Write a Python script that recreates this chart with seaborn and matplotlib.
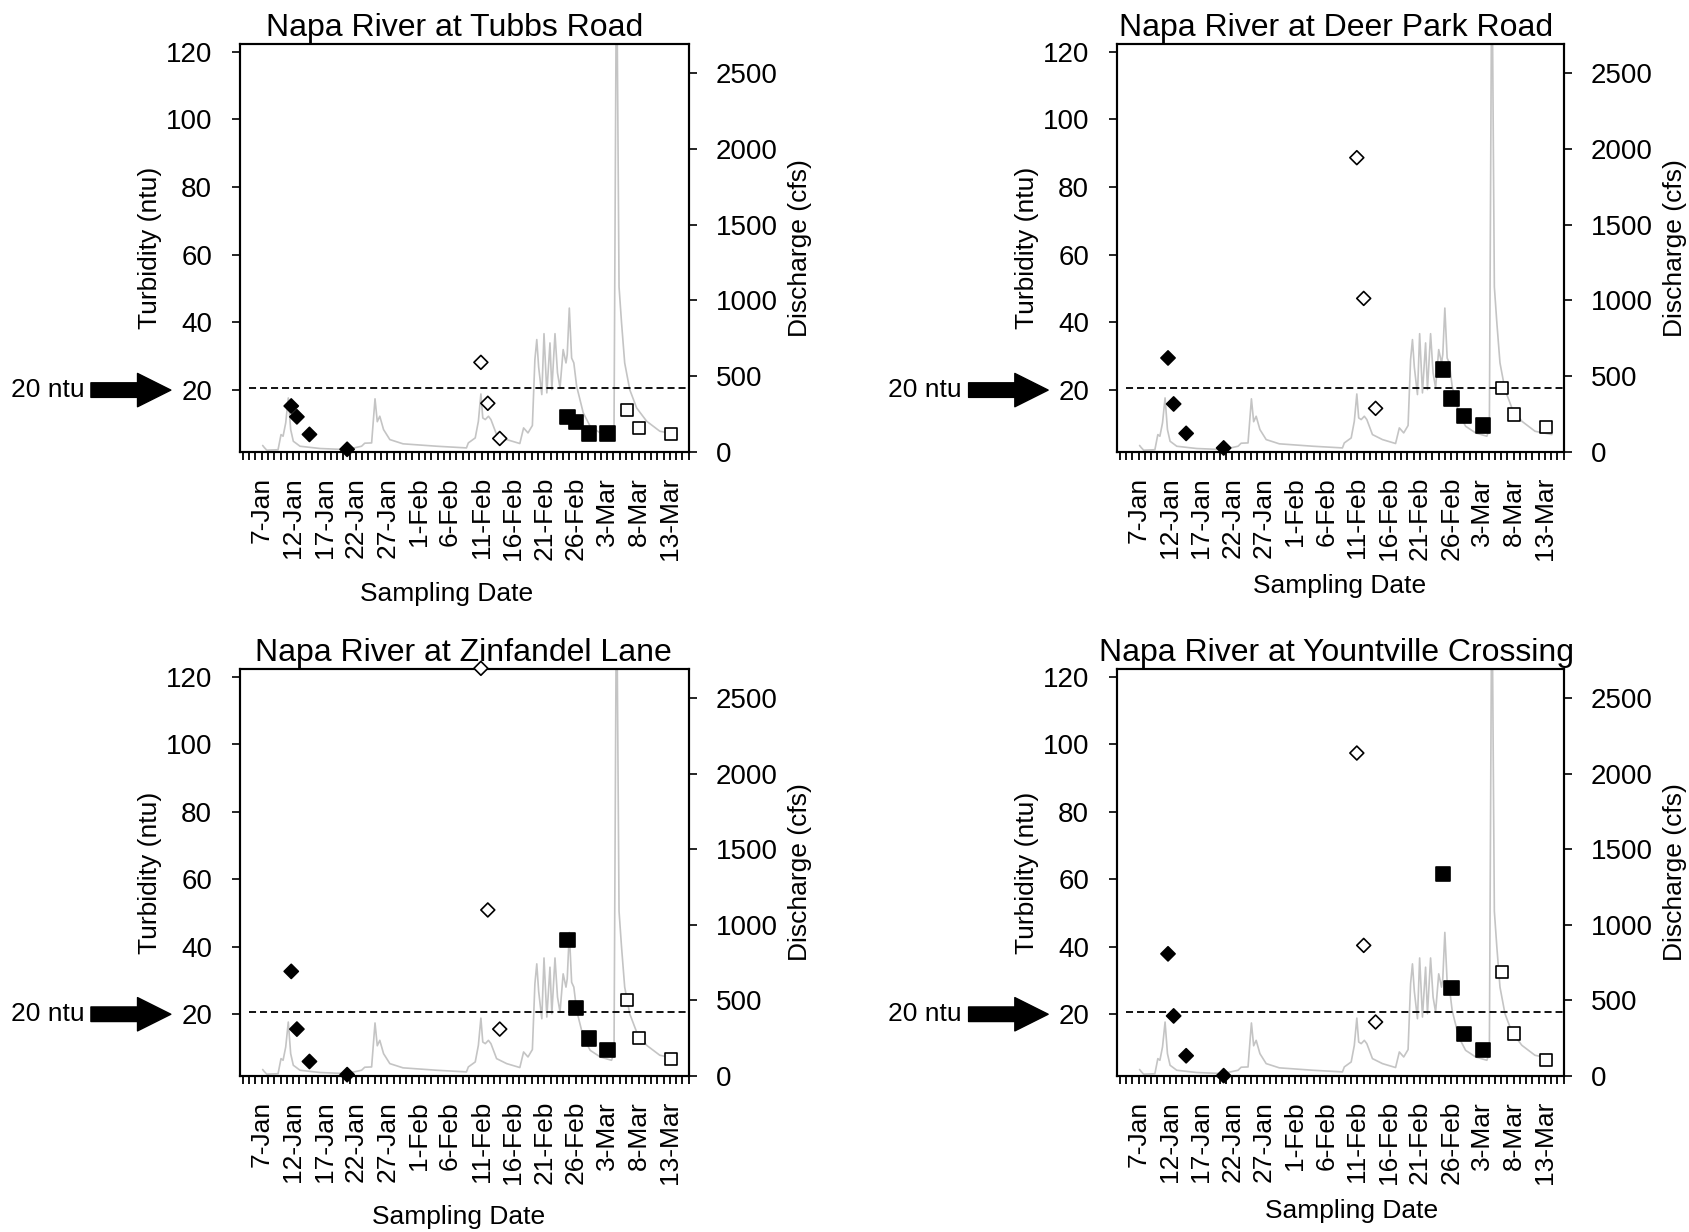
import pandas as pd
import seaborn as sns
import matplotlib.pyplot as plt
import matplotlib.dates as mdates
import matplotlib.ticker as mticker
from matplotlib.transforms import blended_transform_factory

# ---- data --------------------------------------------------------------
sites = ["Napa River at Tubbs Road", "Napa River at Deer Park Road",
         "Napa River at Zinfandel Lane", "Napa River at Yountville Crossing"]

# sampling times, day of year (1 = 1-Jan), same for every site
sample_day = [11.7, 12.6, 14.6, 20.6, 41.9, 43.0, 44.9,
              55.7, 57.05, 59.1, 62.05, 65.1, 67.1, 72.2]
sample_group = ["jan", "jan", "jan", "jan", "feb", "feb", "feb",
                "late_feb", "late_feb", "late_feb", "late_feb", "mar", "mar", "mar"]

tubbs_ntu = [15.3, 12.1, 6.9, 2.5, 28.2, 16.1, 5.7, 12.1, 10.6, 7.2, 7.2, 14.1, 8.7, 6.9]
deer_park_ntu = [29.5, 15.9, 7.2, 2.9, 88.7, 47.1, 14.6, 26.1, 17.5, 12.3, 9.5, 20.5, 12.8, 9.2]
zinfandel_ntu = [32.7, 15.6, 6.0, 2.1, 122.5, 50.9, 15.6, 41.9, 21.8, 12.8, 9.4, 24.1, 12.9, 6.7]
yountville_ntu = [37.9, 19.5, 7.7, 1.8, 97.4, 40.4, 17.7, 61.6, 27.7, 14.1, 9.4, 32.5, 14.3, 6.5]
site_ntu = [tubbs_ntu, deer_park_ntu, zinfandel_ntu, yountville_ntu]

# discharge hydrograph (same gauge drawn in all panels)
flow_day = [7.15, 7.4, 7.8, 9.6, 10.07, 10.4, 10.82, 11.23, 11.61, 12.03, 13.1, 16.3,
            20.5, 22.9, 23.4, 24.5, 25.04, 25.4, 25.8, 26.4, 27.4, 29.5, 34.9, 39.6,
            39.9, 41.0, 41.5, 41.9, 42.2, 42.6, 43.1, 43.5, 44.4, 46.0, 48.1, 48.7,
            49.4, 50.1, 50.5, 50.8, 51.1, 51.6, 51.95, 52.4, 52.9, 53.2, 53.7, 54.1,
            54.5, 55.0, 55.45, 55.65, 55.98, 56.35, 56.7, 57.15, 58.2, 59.3, 60.9,
            62.7, 63.1, 63.5, 63.9, 64.3, 64.8, 65.6, 66.7, 68.3, 70.4, 73.1]
flow_cfs = [43, 30, 12, 15, 115, 104, 192, 357, 148, 71, 38, 23,
            16, 38, 58, 60, 351, 200, 236, 148, 82, 54, 38, 27,
            60, 93, 203, 383, 225, 214, 236, 214, 115, 82, 56, 159,
            126, 175, 610, 742, 560, 379, 781, 390, 720, 412, 781, 522,
            423, 676, 588, 643, 950, 620, 588, 434, 258, 170, 126,
            104, 150, 3400, 1090, 852, 588, 412, 291, 203, 137, 115]

tick_labels = ["7-Jan", "12-Jan", "17-Jan", "22-Jan", "27-Jan", "1-Feb", "6-Feb",
               "11-Feb", "16-Feb", "21-Feb", "26-Feb", "3-Mar", "8-Mar", "13-Mar"]

# ---- helpers -------------------------------------------------------------
base = pd.Timestamp("2002-12-31")


def to_date(days):
    return base + pd.to_timedelta(pd.Series(days, dtype=float), unit="D")


flow_dates = to_date(flow_day)
tick_dates = pd.to_datetime([t + "-2003" for t in tick_labels], format="%d-%b-%Y")

sns.set_style("ticks", {"axes.edgecolor": "black", "xtick.color": "black",
                        "ytick.color": "black", "text.color": "black",
                        "axes.labelcolor": "black"})
plt.rcParams["font.family"] = ["Liberation Sans", "DejaVu Sans"]

W, H = 1690, 1232
fig = plt.figure(figsize=(W / 100, H / 100), dpi=100)

boxes = [(240, 44, 689, 452), (1117, 44, 1564, 452),
         (240, 669, 689, 1076), (1117, 669, 1564, 1076)]
xlabel_pos = [(0.461, -0.318), (0.497, -0.300), (0.486, -0.318), (0.525, -0.302)]
title_x = [0.478, 0.49, 0.498, 0.49]

for i, site in enumerate(sites):
    x0, y0, x1, y1 = boxes[i]
    ax = fig.add_axes([x0 / W, 1 - y1 / H, (x1 - x0) / W, (y1 - y0) / H])
    ax2 = ax.twinx()

    sns.lineplot(x=flow_dates.values, y=flow_cfs, ax=ax2, color="#c4c4c4",
                 lw=1.2, estimator=None)

    df = pd.DataFrame({"date": to_date(sample_day), "ntu": site_ntu[i],
                       "group": sample_group})
    sns.scatterplot(data=df, x="date", y="ntu", hue="group", style="group", size="group",
                    palette={"jan": "black", "feb": "white", "late_feb": "black", "mar": "white"},
                    markers={"jan": "D", "feb": "D", "late_feb": "s", "mar": "s"},
                    sizes={"jan": 52, "feb": 50, "late_feb": 105, "mar": 76},
                    edgecolor="black", linewidth=1.2, legend=False, ax=ax,
                    clip_on=False, zorder=3)

    ax.set_zorder(ax2.get_zorder() + 1)
    ax.patch.set_visible(False)

    ax.axhline(20.6, xmin=0.02, xmax=1.0, color="black", lw=1.3, dashes=(3.9, 2.2))

    ax.set_xlim(to_date([3.54])[0], to_date([75.04])[0])
    ax.set_ylim(1.7, 122.3)
    ax.set_yticks([20, 40, 60, 80, 100, 120])
    ax2.set_ylim(0, 2693)
    ax2.set_yticks([0, 500, 1000, 1500, 2000, 2500])

    ax.xaxis.set_major_locator(mticker.FixedLocator(mdates.date2num(tick_dates)))
    ax.xaxis.set_major_formatter(mticker.FixedFormatter(tick_labels))
    ax.xaxis.set_minor_locator(mdates.DayLocator())

    ax.tick_params(axis="x", which="both", direction="out", length=5.5, width=1.3,
                   labelsize=19, pad=12.5, labelrotation=90)
    ax.tick_params(axis="y", direction="out", length=6, width=1.2, labelsize=20, pad=14)
    ax2.tick_params(axis="y", direction="out", length=6, width=1.2, labelsize=20, pad=13)
    for a in (ax, ax2):
        for sp in a.spines.values():
            sp.set_linewidth(1.5)
            sp.set_color("black")

    ax.set_title(site, fontsize=23, pad=6, x=title_x[i])
    ax.set_ylabel("Turbidity (ntu)", fontsize=19, labelpad=3)
    ax2.set_ylabel("Discharge (cfs)", fontsize=19, labelpad=8)
    ax2.set_xlabel("")
    ax.set_xlabel("Sampling Date", fontsize=19)
    ax.xaxis.set_label_coords(*xlabel_pos[i])

    # 20 ntu arrow marker on the left of the axis
    trans = blended_transform_factory(ax.transAxes, ax.transData)
    ax.annotate("", xy=(-0.154, 20), xytext=(-0.332, 20),
                xycoords=trans, textcoords=trans, annotation_clip=False,
                arrowprops=dict(arrowstyle="simple,head_length=24,head_width=24,tail_width=10.5",
                                mutation_scale=1, fc="black", ec="black",
                                shrinkA=0, shrinkB=0))
    ax.text(-0.347, 20, "20 ntu", transform=trans, ha="right", va="center", fontsize=19)

fig.savefig("out.png", dpi=100, facecolor="white")
